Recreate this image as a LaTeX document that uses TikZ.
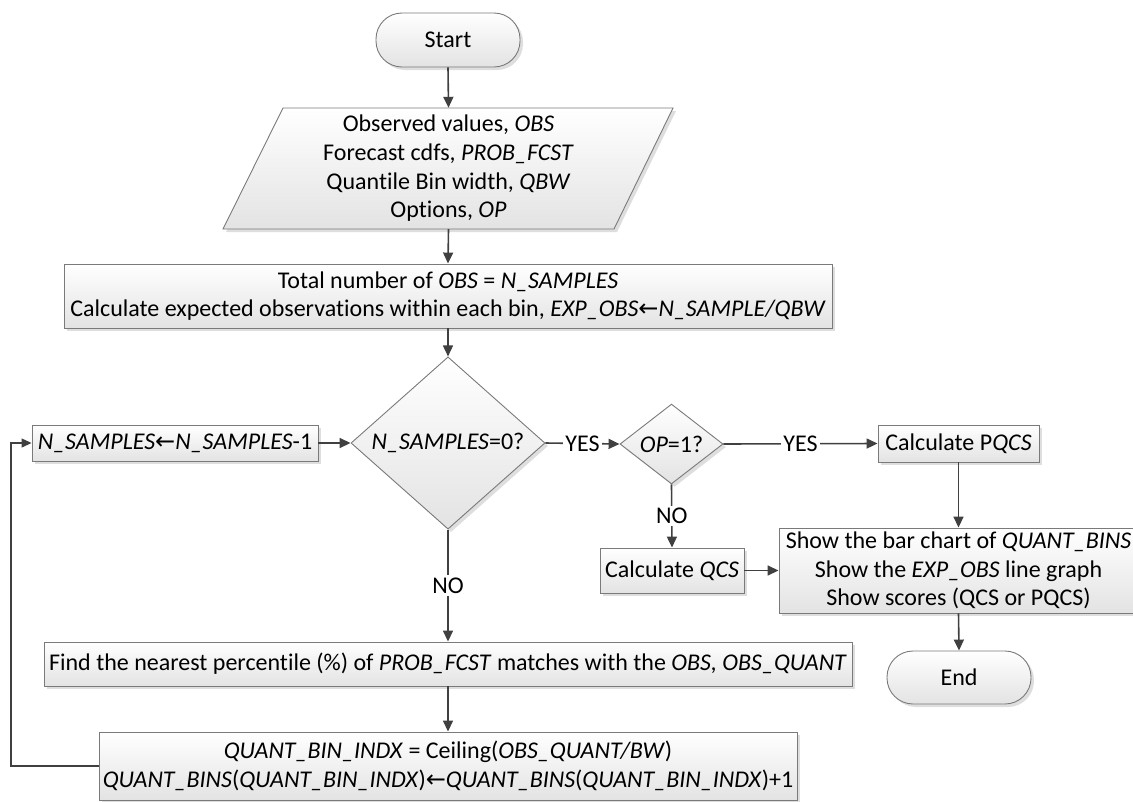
\documentclass[tikz,border=0pt]{standalone}
\usepackage{fontspec}
\setmainfont{Carlito}[Ligatures=CommonOff]
\newfontfamily\arrowfont{DejaVu Sans}
\usetikzlibrary{arrows.meta,shapes.geometric,shadows}
\newcommand{\getsarrow}{{\arrowfont\upshape ←}}
\definecolor{edgegray}{HTML}{7A7A7A}
\definecolor{conngray}{HTML}{404040}
\begin{document}
\begin{tikzpicture}[x=1pt,y=-1pt,
  font=\fontsize{24pt}{28.7pt}\selectfont,
  shape base/.style={draw=edgegray, line width=0.9pt, top color=white, bottom color=black!11,
    drop shadow={shadow xshift=3pt, shadow yshift=-3pt, fill=black!13, opacity=1},
    align=center, inner sep=0pt},
  procbox/.style={shape base, rectangle},
  termbox/.style={shape base, rectangle, rounded corners=26pt},
  decbox/.style={shape base, diamond},
  ghost/.style={rectangle, inner sep=0pt, align=center},
  arr/.style={draw=conngray, line width=1.6pt, -{Triangle[length=11pt,width=10pt]}},
  loopline/.style={draw=conngray, line width=1.2pt, -{Triangle[length=10pt,width=9pt]}},
  lbl/.style={fill=white, inner sep=2.5pt}
]
\useasboundingbox (0,0) rectangle (1133,801);
\clip (0,0) rectangle (1133,801);

% start
\node[termbox, minimum width=144pt, minimum height=54pt] (start) at (448,40) {Start};

% input data (parallelogram drawn as a path, text in a plain node)
\path[shape base] (283,108) -- (673,108) -- (614,229) -- (223,229) -- cycle;
\node[ghost, minimum width=390pt, minimum height=121pt] (input) at (448.5,168.5)
  {Observed values, \textit{OBS}\\
   Forecast cdfs, \textit{PROB\_FCST}\\
   Quantile Bin width, \textit{QBW}\\
   Options, \textit{OP}};

% initial counts
\node[procbox, minimum width=768pt, minimum height=64pt] (init) at (448,296)
  {Total number of \textit{OBS} = \textit{N\_SAMPLES}\\
   Calculate expected observations within each bin, \textit{EXP\_OBS}\getsarrow\textit{N\_SAMPLE/QBW}};

% loop test
\node[decbox, minimum width=194pt, minimum height=149pt] (test) at (448,443)
  {\textit{N\_SAMPLES}=0?};

% decrement
\node[procbox, minimum width=286pt, minimum height=36pt] (dec) at (175,443)
  {\textit{N\_SAMPLES}\getsarrow\textit{N\_SAMPLES}-1};

% option test
\node[decbox, minimum width=103pt, minimum height=76pt] (opt) at (671.5,444)
  {\textit{OP}=1?};

% scores
\node[procbox, minimum width=161pt, minimum height=37pt] (pqcs) at (958.5,443.5)
  {Calculate P\textit{QCS}};
\node[procbox, minimum width=144pt, minimum height=45pt] (qcs) at (672,570.5)
  {Calculate \textit{QCS}};

% output
\node[procbox, minimum width=359pt, minimum height=85pt] (show) at (958.5,570.5)
  {Show the bar chart of \textit{QUANT\_BINS}\\
   Show the \textit{EXP\_OBS} line graph\\
   Show scores (QCS or PQCS)};
\node[termbox, minimum width=144pt, minimum height=53pt] (stop) at (959,677.5) {End};

% loop body
\node[procbox, minimum width=808pt, minimum height=44pt] (find) at (448,664)
  {Find the nearest percentile (\%) of \textit{PROB\_FCST} matches with the \textit{OBS, OBS\_QUANT}};
\node[procbox, minimum width=698pt, minimum height=68pt] (bins) at (448,766)
  {\textit{QUANT\_BIN\_INDX} = Ceiling(\textit{OBS\_QUANT/BW})\\
   \textit{QUANT\_BINS}(\textit{QUANT\_BIN\_INDX})\getsarrow\textit{QUANT\_BINS}(\textit{QUANT\_BIN\_INDX})+1};

\coordinate (back) at (11,0);

% connectors
\draw[arr] (start.south) -- (input.north);
\draw[arr] (input.south) -- (init.north);
\draw[arr] (init.south) -- (test.north);
\draw[arr] (test.east) -- node[lbl] (yesa) {YES} (opt.west);
\draw[arr] (opt.east) -- node[lbl] (yesb) {YES} (pqcs.west);
\draw[arr] (opt.south) -- node[lbl] (noa) {NO} (qcs.north);
\draw[arr] (qcs.east) -- (show.west);
\draw[arr] (pqcs.south) -- (show.north);
\draw[arr] (show.south) -- (stop.north);
\draw[arr] (test.south) -- node[lbl] (nob) {NO} (find.north);
\draw[arr] (find.south) -- (bins.north);
\draw[arr] (dec.east) -- (test.west);
\draw[loopline] (bins.west) -- (bins.west -| back) |- (dec.west);
\end{tikzpicture}
\end{document}
